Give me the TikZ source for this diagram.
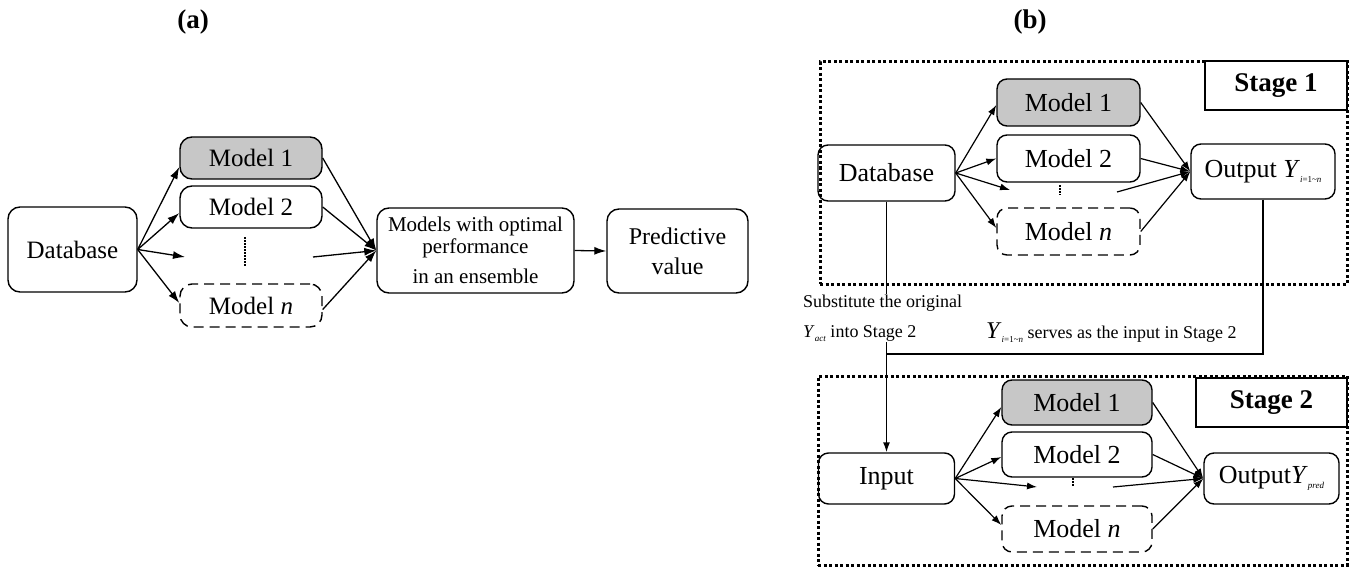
\documentclass[tikz,border=0pt]{standalone}
\usepackage{fontspec}
\setmainfont{Liberation Serif}
\usetikzlibrary{arrows.meta}
\newcommand{\sbs}[1]{\raisebox{-0.45ex}{\fontsize{9}{9}\selectfont #1}}
\begin{document}
\begin{tikzpicture}[x=1pt,y=-1pt,
  every node/.style={font=\fontsize{25}{30}\selectfont},
  box/.style={draw, line width=1.4pt, rounded corners=12pt, inner sep=0pt, align=center},
  gbox/.style={box, fill=black!22},
  dbox/.style={box, dash pattern=on 10pt off 6pt},
  bfont/.style={font=\fontsize{26}{30}\selectfont},
  arr/.style={line width=1.3pt, -{Latex[length=12pt,width=8pt]}},
  arrb/.style={line width=1.2pt, -{Latex[length=10pt,width=7pt]}},
  ln/.style={line width=1.4pt},
  vdots/.style={line width=2pt, dash pattern=on 1.5pt off 1.5pt},
  stagebox/.style={draw, line width=3pt, dash pattern=on 3pt off 2.5pt, inner sep=0pt},
  labbox/.style={draw, line width=1.4pt, inner sep=0pt, fill=white, font=\fontsize{27}{30}\selectfont\bfseries},
  small/.style={font=\fontsize{18}{30}\selectfont}
]
\useasboundingbox (0,0) rectangle (1356,567);

% ---------- (a) ----------
\node[font=\fontsize{27}{30}\selectfont\bfseries] (la) at (193,22) {(a)};
\node[font=\fontsize{27}{30}\selectfont\bfseries] (lb) at (1030,22) {(b)};

\node[box, minimum width=129pt, minimum height=85pt] (dbA) at (72.5,249.5) {Database};
\node[gbox, minimum width=142pt, minimum height=42pt] (m1A) at (251,158) {Model 1};
\node[box, minimum width=142pt, minimum height=42pt] (m2A) at (251,207) {Model 2};
\node[dbox, minimum width=142pt, minimum height=43pt] (mnA) at (251,305.5) {Model \textit{n}};
\coordinate (dA1) at (245,237);
\coordinate (dA2) at (245,266);
\draw[vdots] (dA1) -- (dA2);
\node[box, minimum width=197pt, minimum height=85pt, font=\fontsize{21}{22}\selectfont] (ensA) at (475.5,250.5) {Models with optimal\\performance\\[8pt]in an ensemble};
\node[box, minimum width=141pt, minimum height=84pt, font=\fontsize{24}{30}\selectfont] (predA) at (677.5,251) {Predictive\\value};

\coordinate (tA3) at (185,257);
\coordinate (sA3) at (313,257);
\draw[arr] (dbA.east) -- ([yshift=-9pt]m1A.west);
\draw[arr] (dbA.east) -- ([yshift=-6pt]m2A.west);
\draw[arr] (dbA.east) -- (tA3);
\draw[arr] (dbA.east) -- ([yshift=2.5pt]mnA.west);
\draw[arr] (m1A.east) -- (ensA.west);
\draw[arr] (m2A.east) -- (ensA.west);
\draw[arr] (sA3) -- (ensA.west);
\draw[arr] ([yshift=-4pt]mnA.east) -- (ensA.west);
\draw[arr] (ensA.east) -- (predA.west);

% ---------- (b) Stage 1 ----------
\node[stagebox, minimum width=527pt, minimum height=222pt] (st1) at (1083.5,173) {};
\node[labbox, minimum width=142pt, minimum height=49pt] (st1l) at (1276,85.5) {Stage 1};
\node[box, bfont, rounded corners=10pt, minimum width=137pt, minimum height=56pt] (dbB) at (886.5,173) {Database};
\node[gbox, bfont, rounded corners=10pt, minimum width=143pt, minimum height=47pt] (m1B) at (1068.5,102.5) {Model 1};
\node[box, bfont, rounded corners=10pt, minimum width=143pt, minimum height=47pt] (m2B) at (1068.5,158.5) {Model 2};
\node[dbox, bfont, rounded corners=10pt, minimum width=143pt, minimum height=47pt] (mnB) at (1068.5,231.5) {Model \textit{n}};
\coordinate (dB1) at (1060,185);
\coordinate (dB2) at (1060,195);
\draw[vdots] (dB1) -- (dB2);
\node[box, bfont, rounded corners=10pt, minimum width=144pt, minimum height=55pt] (outB) at (1263,171.5) {Output \textit{Y}\sbs{\textit{i}=1\textasciitilde\textit{n}}};

\coordinate (tB3) at (1010,190);
\coordinate (sB3) at (1117,192);
\draw[arrb] (dbB.east) -- ([yshift=-2.5pt]m1B.west);
\draw[arrb] (dbB.east) -- (m2B.west);
\draw[arrb] (dbB.east) -- (tB3);
\draw[arrb] (dbB.east) -- ([yshift=3.5pt]mnB.west);
\draw[arrb] (m1B.east) -- (outB.west);
\draw[arrb] (m2B.east) -- (outB.west);
\draw[arrb] (sB3) -- (outB.west);
\draw[arrb] (mnB.east) -- (outB.west);

% ---------- (b) Stage 2 ----------
\node[stagebox, minimum width=529pt, minimum height=189pt] (st2) at (1082.5,470.5) {};
\node[labbox, minimum width=151pt, minimum height=49pt] (st2l) at (1271.5,402.5) {Stage 2};
\node[box, bfont, rounded corners=10pt, minimum width=136pt, minimum height=51pt] (inB) at (886.5,478.5) {Input};
\node[gbox, bfont, rounded corners=10pt, minimum width=150pt, minimum height=45pt] (m1C) at (1077,402.5) {Model 1};
\node[box, bfont, rounded corners=10pt, minimum width=150pt, minimum height=45pt] (m2C) at (1077,454.5) {Model 2};
\node[dbox, bfont, rounded corners=10pt, minimum width=150pt, minimum height=46pt] (mnC) at (1077,529) {Model \textit{n}};
\coordinate (dC1) at (1073,478);
\coordinate (dC2) at (1073,487);
\draw[vdots] (dC1) -- (dC2);
\node[box, bfont, rounded corners=10pt, minimum width=135pt, minimum height=51pt] (outC) at (1271.5,478.5) {Output\textit{Y}\sbs{\textit{pred}}};

\coordinate (tC3) at (1037,487);
\coordinate (sC3) at (1113,487);
\draw[arrb] (inB.east) -- ([yshift=-4.5pt]m1C.west);
\draw[arrb] (inB.east) -- ([yshift=-2.5pt]m2C.west);
\draw[arrb] (inB.east) -- (tC3);
\draw[arrb] (inB.east) -- ([yshift=4pt]mnC.west);
\draw[arrb] (m1C.east) -- (outC.west);
\draw[arrb] (m2C.east) -- (outC.west);
\draw[arrb] (sC3) -- (outC.west);
\draw[arrb] (mnC.east) -- (outC.west);

% ---------- links between stages ----------
\coordinate (jn) at (886.5,354);
\draw[ln] (outB.south) -- (outB.south |- jn) -- (jn);
\draw[arrb, line width=1.4pt] (dbB.south) -- (inB.north);
\node[small, fill=white, align=left, anchor=west, inner sep=1pt] (subst) at (802,318) {Substitute the original\\\textit{Y}\sbs{\textit{act}} into Stage 2};
\node[small, anchor=west, inner sep=1pt] (serves) at (985,333) {{\fontsize{24}{24}\selectfont\textit{Y}}\sbs{\textit{i}=1\textasciitilde\textit{n}} serves as the input in Stage 2};
\end{tikzpicture}
\end{document}
